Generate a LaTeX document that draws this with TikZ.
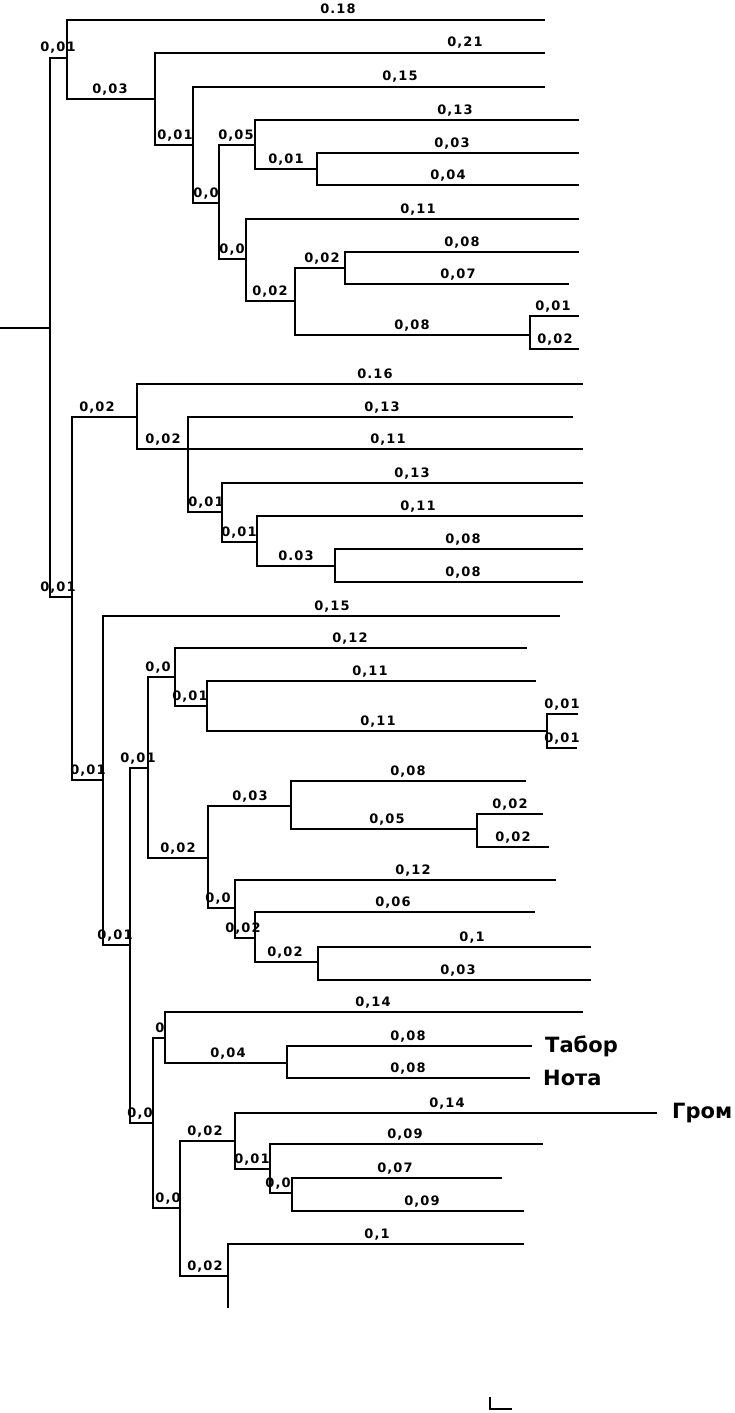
\documentclass[tikz,border=0pt]{standalone}
\usepackage{fontspec}
\setmainfont{DejaVu Sans}
\newfontfamily\blenfont[LetterSpace=8]{DejaVu Sans}
\usetikzlibrary{positioning}

\tikzset{
  branch/.style={line width=2.6pt},
  blen/.style={anchor=base, yshift=6pt, inner sep=0pt, font=\blenfont\fontsize{13}{13}\selectfont\bfseries},
  taxon/.style={anchor=west, inner sep=0pt, font=\fontsize{21}{21}\selectfont\bfseries},
}

\begin{document}
\begin{tikzpicture}[x=1pt,y=-1pt]
\useasboundingbox (0,0) rectangle (735,1413);

% tree nodes
\foreach \n/\x/\y in {r0/0/328, r/50/328,
  A/67/58, A1/545/20, B/155/99, B1/545/53, C/193/145, C1/545/87, D/219/203,
  E/255/145, E1/579/120, F/317/169, F1/579/153, F2/579/185, G/246/259, G1/579/219,
  H/295/301, I/345/268, I1/579/252, I2/569/284, J/530/335, J1/579/316, J2/579/349,
  K/72/597, L/137/417, L1/583/384, M/188/449, M1/573/417, M2/583/449, N/222/512,
  N1/583/483, O/257/542, O1/583/516, P/335/566, P1/583/549, P2/583/582,
  Q/103/780, Q1/560/616, R/130/945, S/148/768, T/175/677, T1/527/648, U/207/706,
  U1/536/681, V/547/731, V1/578/714, V2/577/748,
  W/208/858, X/291/806, X1/526/781, Y/477/829, Y1/543/814, Y2/549/847,
  Z/235/908, Z1/556/880, Za/255/938, Za1/535/912, Zb/318/962, Zb1/591/947, Zb2/591/980,
  Ka/153/1123, Kb/165/1038, Kb1/583/1012, Kc/287/1063, Kc1/532/1046, Kc2/530/1078,
  Kd/180/1208, Ke/235/1141, Ke1/657/1113, Kf/270/1169, Kf1/543/1144,
  Kg/292/1193, Kg1/502/1178, Kg2/524/1211, Kh/228/1276, Kh1/524/1244, Kh2/228/1308}
  \coordinate (\n) at (\x,\y);

% branches
\draw[branch] (r0) -- (r);
\foreach \p/\c in {r/A, r/K, A/A1, A/B, B/B1, B/C, C/C1, C/D, D/E, D/G, E/E1, E/F,
  F/F1, F/F2, G/G1, G/H, H/I, H/J, I/I1, I/I2, J/J1, J/J2,
  K/L, K/Q, L/L1, L/M, M/M1, M/M2, M/N, N/N1, N/O, O/O1, O/P, P/P1, P/P2,
  Q/Q1, Q/R, R/S, R/Ka, S/T, S/W, T/T1, T/U, U/U1, U/V, V/V1, V/V2,
  W/X, W/Z, X/X1, X/Y, Y/Y1, Y/Y2, Z/Z1, Z/Za, Za/Za1, Za/Zb, Zb/Zb1, Zb/Zb2,
  Ka/Kb, Ka/Kd, Kb/Kb1, Kb/Kc, Kc/Kc1, Kc/Kc2, Kd/Ke, Kd/Kh, Ke/Ke1, Ke/Kf,
  Kf/Kf1, Kf/Kg, Kg/Kg1, Kg/Kg2, Kh/Kh1, Kh/Kh2}
  \draw[branch] (\p) |- (\c);

% branch lengths
\foreach \c/\x/\y/\t in {A/58/58/{0,01}, A1/338/20/{0.18}, B/110/99/{0,03},
  B1/465/53/{0,21}, C/175/145/{0,01}, C1/400/87/{0,15}, D/206/203/{0,0},
  E/236/145/{0,05}, E1/455/120/{0,13}, F/286/169/{0,01}, F1/452/153/{0,03},
  F2/448/185/{0,04}, G/232/259/{0,0}, G1/418/219/{0,11}, H/270/301/{0,02},
  I/322/268/{0,02}, I1/462/252/{0,08}, I2/458/284/{0,07}, J/412/335/{0,08},
  J1/553/316/{0,01}, J2/555/349/{0,02},
  K/58/597/{0,01}, L/97/417/{0,02}, L1/375/384/{0.16}, M/163/449/{0,02},
  M1/382/417/{0,13}, M2/388/449/{0,11}, N/206/512/{0,01}, N1/412/483/{0,13},
  O/239/542/{0,01}, O1/418/516/{0,11}, P/296/566/{0.03}, P1/463/549/{0,08},
  P2/463/582/{0,08},
  Q/88/780/{0,01}, Q1/332/616/{0,15}, R/115/945/{0,01}, S/138/768/{0,01},
  T/158/677/{0,0}, T1/350/648/{0,12}, U/190/706/{0,01}, U1/370/681/{0,11},
  V/378/731/{0,11}, V1/562/714/{0,01}, V2/562/748/{0,01},
  W/178/858/{0,02}, X/250/806/{0,03}, X1/408/781/{0,08}, Y/387/829/{0,05},
  Y1/510/814/{0,02}, Y2/513/847/{0,02}, Z/218/908/{0,0}, Z1/413/880/{0,12},
  Za/243/938/{0,02}, Za1/393/912/{0,06}, Zb/285/962/{0,02}, Zb1/472/947/{0,1},
  Zb2/458/980/{0,03},
  Ka/140/1123/{0,0}, Kb/160/1038/{0}, Kb1/373/1012/{0,14}, Kc/228/1063/{0,04},
  Kc1/408/1046/{0,08}, Kc2/408/1078/{0,08}, Kd/168/1208/{0,0}, Ke/205/1141/{0,02},
  Ke1/447/1113/{0,14}, Kf/252/1169/{0,01}, Kf1/405/1144/{0,09}, Kg/278/1193/{0,0},
  Kg1/395/1178/{0,07}, Kg2/422/1211/{0,09}, Kh/205/1276/{0,02}, Kh1/377/1244/{0,1}}
  \node[blen] (b-\c) at (\x,\y) {\t};

% taxa
\node[taxon, right=13pt of Kc1] (tabor) {Табор};
\node[taxon, right=13pt of Kc2] (nota) {Нота};
\node[taxon, right=15pt of Ke1] (grom) {Гром};

% scale mark
\draw[branch] (490,1397) -- (490,1409) -- (512,1409);
\end{tikzpicture}
\end{document}
